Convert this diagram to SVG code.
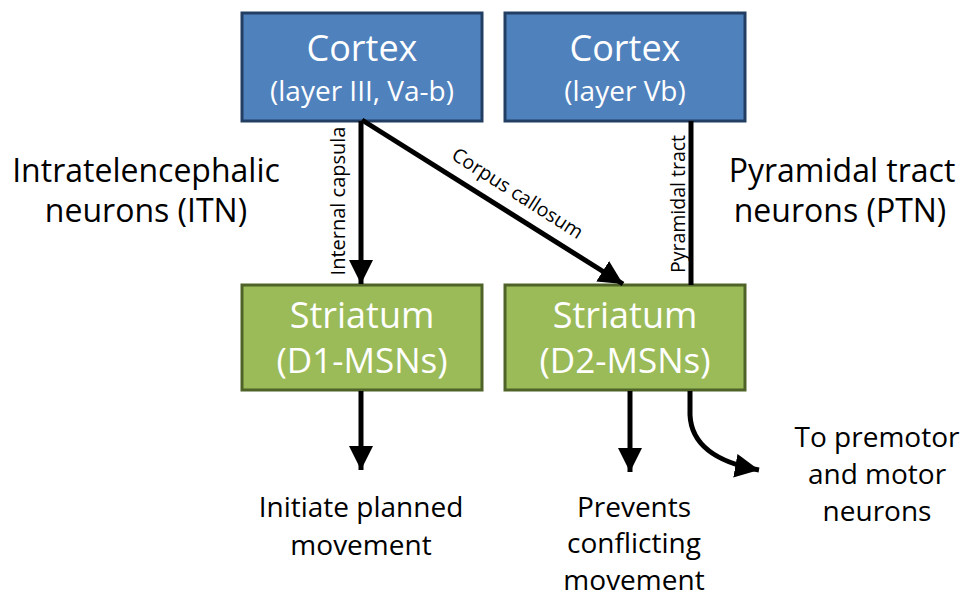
<svg xmlns="http://www.w3.org/2000/svg" width="960" height="597" viewBox="0 0 960 597">
<defs>
<style>
.t{font-family:"Open Sans","Liberation Sans",sans-serif;fill:#000}
.w{font-family:"Open Sans","Liberation Sans",sans-serif;fill:#ffffff;text-anchor:middle}
.blue{fill:#4F81BD;stroke:#223F63;stroke-width:3}
.green{fill:#9BBB59;stroke:#4F6228;stroke-width:3}
.ln{stroke:#000;stroke-width:5;fill:none}
</style>
<marker id="ah" viewBox="0 0 10 10" refX="10" refY="5" markerWidth="4.8" markerHeight="4.8" orient="auto" markerUnits="strokeWidth">
<path d="M0,0 L10,5 L0,10 z" fill="#000"/>
</marker>
</defs>
<rect width="960" height="597" fill="#fff"/>
<g id="cortex1">
<rect class="blue" x="242" y="13" width="240" height="108"/>
<text class="w" x="362" y="61" font-size="36">Cortex</text>
<text class="w" x="362" y="101" font-size="28">(layer III, Va-b)</text>
</g>
<g id="cortex2">
<rect class="blue" x="505" y="13" width="240" height="108"/>
<text class="w" x="625" y="61" font-size="36">Cortex</text>
<text class="w" x="625" y="101" font-size="28">(layer Vb)</text>
</g>
<g id="striatum1">
<rect class="green" x="242" y="285" width="240" height="105"/>
<text class="w" x="362" y="328" font-size="36">Striatum</text>
<text class="w" x="362" y="373" font-size="35">(D1-MSNs)</text>
</g>
<g id="striatum2">
<rect class="green" x="505" y="285" width="240" height="105"/>
<text class="w" x="625" y="328" font-size="36">Striatum</text>
<text class="w" x="625" y="373" font-size="35">(D2-MSNs)</text>
</g>
<g id="connectors">
<line class="ln" x1="361" y1="121" x2="361" y2="284" marker-end="url(#ah)"/>
<line class="ln" x1="362" y1="120" x2="623" y2="284" marker-end="url(#ah)"/>
<line class="ln" x1="691" y1="121" x2="691" y2="285"/>
<line class="ln" x1="361" y1="391" x2="361" y2="470" marker-end="url(#ah)"/>
<line class="ln" x1="630" y1="391" x2="630" y2="472" marker-end="url(#ah)"/>
<path class="ln" d="M690,391 L690,415 Q692,458 759,470" marker-end="url(#ah)"/>
</g>
<g id="edge-labels">
<text class="t" font-size="20" transform="translate(345,201) rotate(-90)" text-anchor="middle">Internal capsula</text>
<text class="t" font-size="19.5" transform="translate(514,199) rotate(32.6)" text-anchor="middle">Corpus callosum</text>
<text class="t" font-size="19.5" transform="translate(685,204) rotate(-90)" text-anchor="middle">Pyramidal tract</text>
</g>
<g id="labels">
<text class="t" x="146" y="182" font-size="32" text-anchor="middle">Intratelencephalic</text>
<text class="t" x="146" y="222" font-size="32" text-anchor="middle">neurons (ITN)</text>
<text class="t" x="842" y="182" font-size="32" text-anchor="middle">Pyramidal tract</text>
<text class="t" x="840" y="222" font-size="32" text-anchor="middle">neurons (PTN)</text>
<text class="t" x="361" y="517" font-size="28" text-anchor="middle">Initiate planned</text>
<text class="t" x="361" y="555" font-size="28" text-anchor="middle">movement</text>
<text class="t" x="634" y="517" font-size="28" text-anchor="middle">Prevents</text>
<text class="t" x="634" y="553" font-size="28" text-anchor="middle">conflicting</text>
<text class="t" x="634" y="590" font-size="28" text-anchor="middle">movement</text>
<text class="t" x="877" y="447" font-size="28" text-anchor="middle">To premotor</text>
<text class="t" x="877" y="484" font-size="28" text-anchor="middle">and motor</text>
<text class="t" x="877" y="521" font-size="28" text-anchor="middle">neurons</text>
</g>
</svg>
